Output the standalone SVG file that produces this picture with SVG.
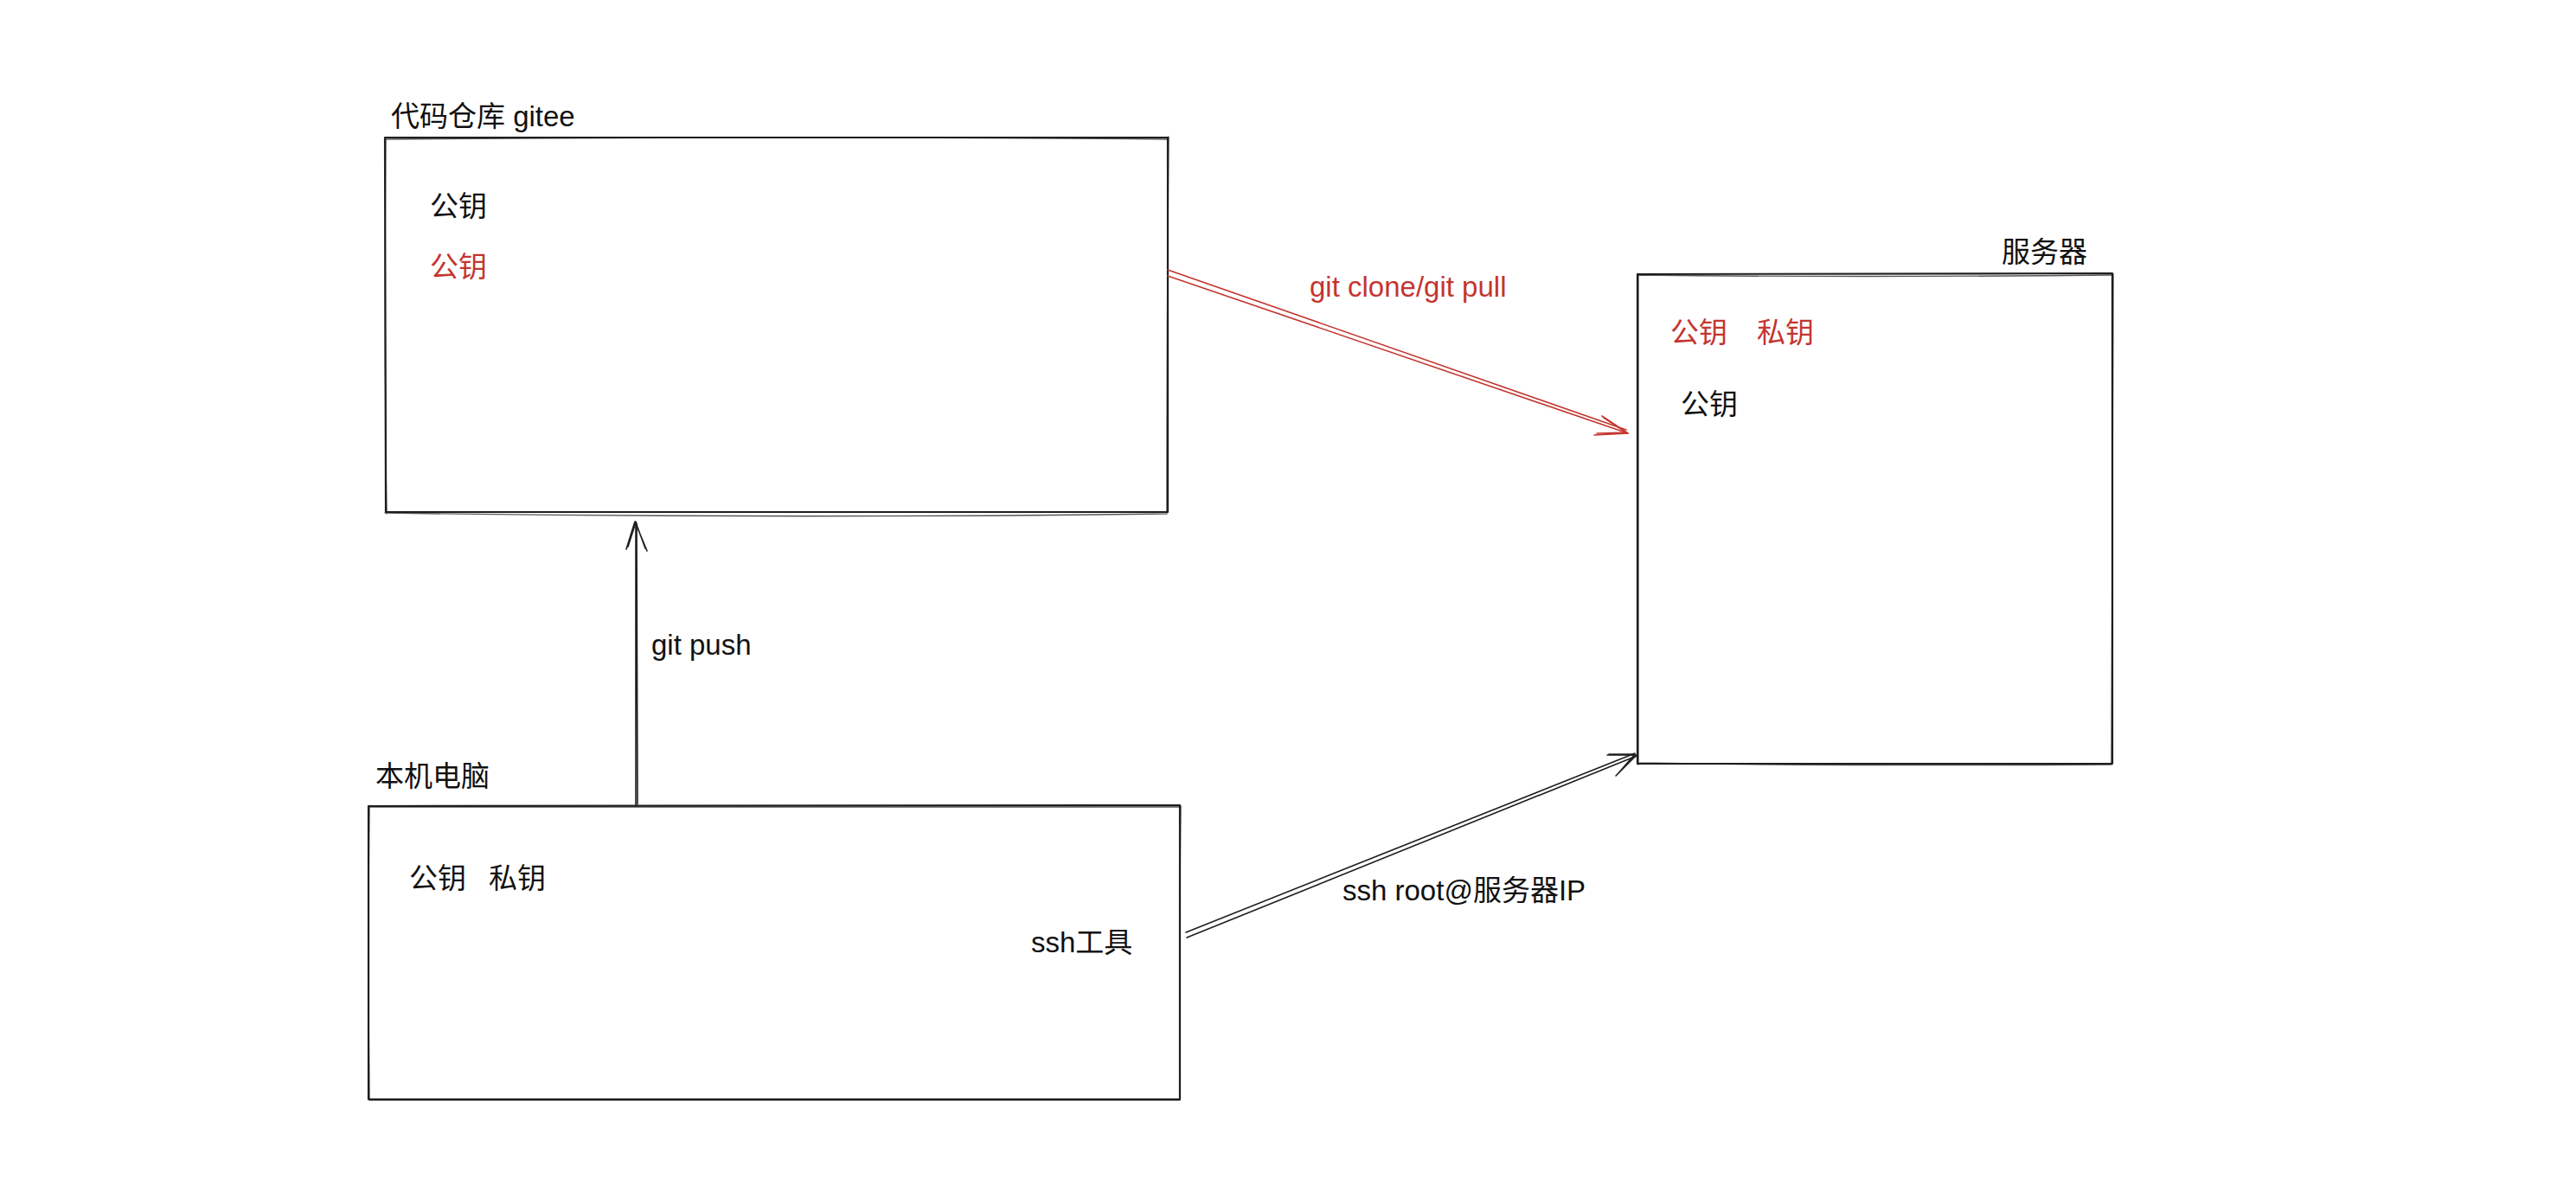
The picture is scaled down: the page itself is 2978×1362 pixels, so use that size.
<svg xmlns="http://www.w3.org/2000/svg" width="2978" height="1362" viewBox="0 0 2978 1362">
<style>
.box{fill:none;stroke:#1e1e1e;stroke-width:2.2;stroke-linecap:round;stroke-linejoin:round}
.box2{fill:none;stroke:#1e1e1e;stroke-width:1.4;stroke-linecap:round;opacity:0.75}
.ln{fill:none;stroke:#1e1e1e;stroke-width:1.6;stroke-linecap:round;stroke-linejoin:round}
.lnr{fill:none;stroke:#c4352f;stroke-width:1.6;stroke-linecap:round;stroke-linejoin:round}
.t{font-family:"Liberation Sans","Noto Sans CJK SC",sans-serif;font-size:33px;fill:#111111}
.r{fill:#c4352f}
</style>
<rect width="2978" height="1362" fill="#ffffff"/>

<g id="node-gitee">
<path class="box" d="M445 159 L1350 159 L1350 592 L446 592 Z"/>
<path class="box2" d="M447 161 Q900 157 1349 161 M1351 158 Q1349 380 1349 593 M1349 594 Q900 600 445 593 M447 594 Q444 380 446 160"/>
<text class="t" x="452" y="146">代码仓库 gitee</text>
<text class="t" x="497" y="250">公钥</text>
<text class="t r" x="497" y="320">公钥</text>
</g>

<g id="node-server">
<path class="box" d="M1893 317 L2442 316 L2442 883 L1893 883 Z"/>
<path class="box2" d="M1894 318 Q2150 321 2441 318 M2443 317 Q2441 600 2441 884 M2441 884 Q2150 886 1894 882 M1894 884 Q1895 600 1894 318"/>
<text class="t" x="2314" y="303">服务器</text>
<text class="t r"><tspan x="1931" y="396">公钥</tspan><tspan x="2031" y="396">私钥</tspan></text>
<text class="t" x="1943" y="479">公钥</text>
</g>

<g id="node-local">
<path class="box" d="M426 932 L1364 931 L1364 1271 L426 1271 Z"/>
<path class="box2" d="M427 933 Q900 935 1363 933 M1365 932 Q1363 1100 1364 1272 M1363 1272 Q900 1270 427 1272 M427 1270 Q425 1100 427 933"/>
<text class="t" x="434" y="909">本机电脑</text>
<text class="t"><tspan x="473" y="1027">公钥</tspan><tspan x="565" y="1027">私钥</tspan></text>
<text class="t" x="1192" y="1101">ssh工具</text>
</g>

<g id="connectors">
<g id="edge-git-push">
<path class="ln" d="M735 932 L735 603 M737 930 L736 605"/>
<path class="ln" d="M724 635 L734 603 L748 637 M726 632 L735 604 L746 634"/>
<text class="t" x="753" y="757">git push</text>
</g>
<g id="edge-git-clone">
<path class="lnr" d="M1350 312 L1880 497 M1350 319 L1882 501"/>
<path class="lnr" d="M1852 481 L1882 501 L1843 503 M1854 483 L1880 500 L1846 501"/>
<text class="t r" x="1514" y="343">git clone/git pull</text>
</g>
<g id="edge-ssh">
<path class="ln" d="M1371 1078 L1890 871 M1372 1084 L1892 874"/>
<path class="ln" d="M1858 873 L1892 873 L1868 897 M1860 872 L1890 872 L1870 895"/>
<text class="t" x="1552" y="1041">ssh root@服务器IP</text>
</g>
</g>
</svg>
